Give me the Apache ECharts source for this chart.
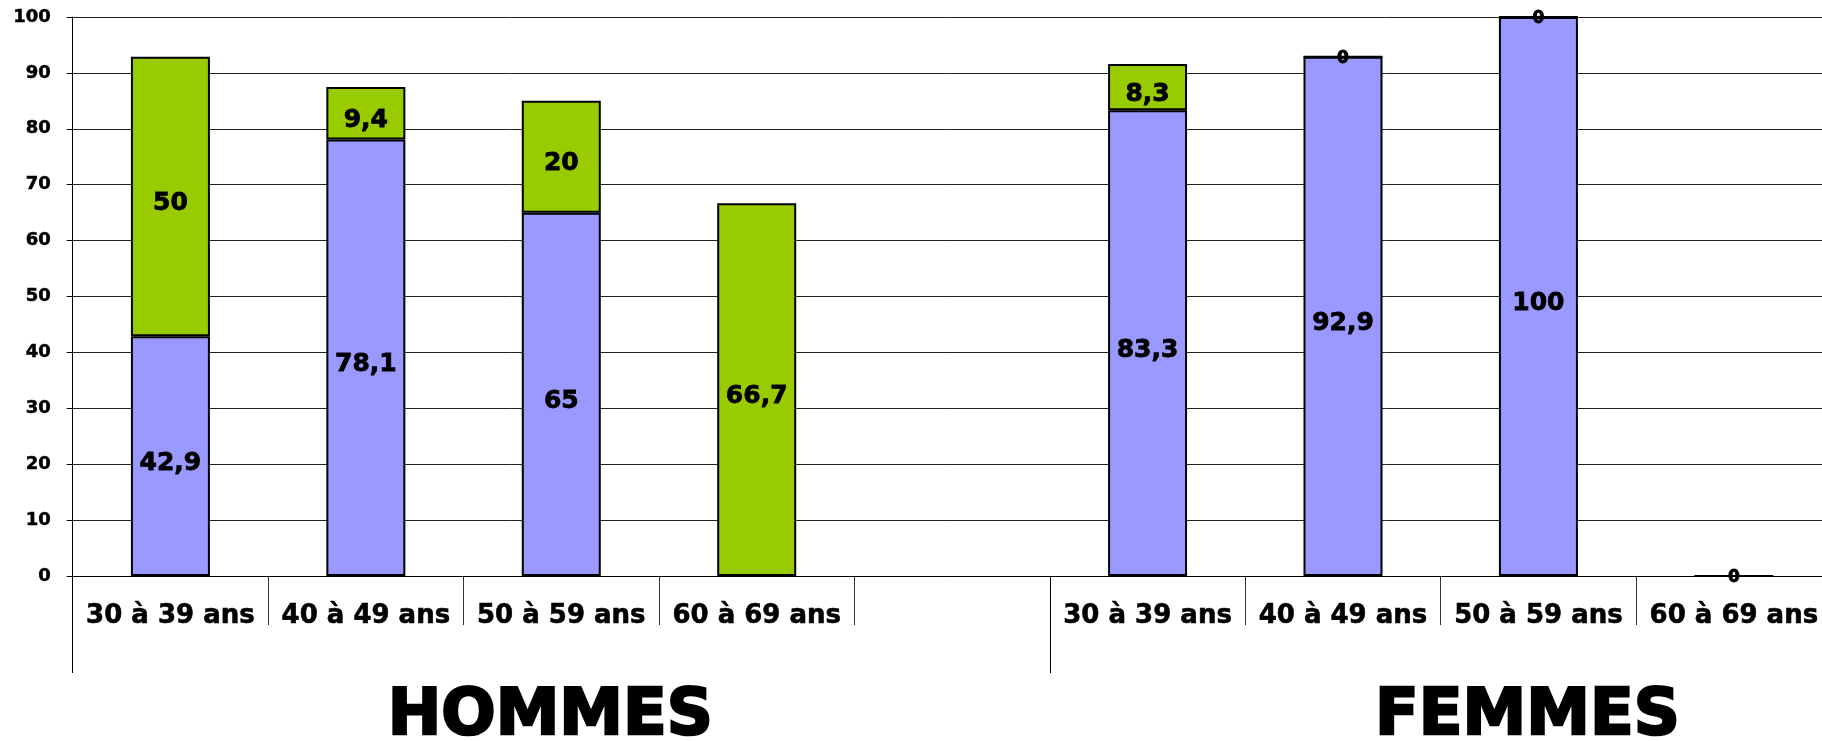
<!DOCTYPE html>
<html>
<head>
<meta charset="utf-8">
<script src="https://cdn.jsdelivr.net/npm/echarts@6/dist/echarts.min.js"></script>
<style>
html,body{margin:0;padding:0;background:#fff;overflow:hidden;}
#chart{width:1822px;height:741px;}
</style>
</head>
<body>
<div id="chart"></div>
<script>
const categories = ['30 à 39 ans','40 à 49 ans','50 à 59 ans','60 à 69 ans','',
                    '30 à 39 ans','40 à 49 ans','50 à 59 ans','60 à 69 ans',''];
const groups = ['HOMMES','FEMMES'];
const blueValues  = [42.9, 78.1, 65, null, null, 83.3, 92.9, 100, null, null];
const greenValues = [50, 9.4, 20, 66.7, null, 8.3, 0, 0, 0, null];
const yTicks = {min: 0, max: 100, interval: 10};

const FONT = 'DejaVu Sans';
function withZeroLabels(arr) {
  return arr.map(v => v === 0 ? {value: 0, label: {fontSize: 17, offset: [0, 2]}} : v);
}
const labelStyle = {
  show: true, position: 'inside', color: '#000', fontFamily: FONT,
  fontWeight: 'bold', fontSize: 25, offset: [0, 7],
  textBorderColor: '#000', textBorderWidth: 0.8,
  formatter: p => String(p.value).replace('.', ',')
};

const chart = echarts.init(document.getElementById('chart'));
chart.setOption({
  animation: false,
  backgroundColor: '#fff',
  grid: {left: 72.7, top: 17, width: 1954.3, height: 559, containLabel: false, outerBoundsMode: 'none'},
  xAxis: [{
    type: 'category', data: categories,
    axisLine: {lineStyle: {color: '#000', width: 1}},
    axisTick: {show: true, length: 49, lineStyle: {color: '#333'}},
    axisLabel: {interval: 0, color: '#000', fontFamily: FONT, fontWeight: 'bold', fontSize: 26, margin: 27,
                textBorderColor: '#000', textBorderWidth: 0.6}
  }, {
    type: 'category', data: groups, position: 'bottom',
    axisLine: {show: false},
    axisTick: {show: true, length: 97, lineStyle: {color: '#000'}},
    axisLabel: {interval: 0, color: '#000', fontFamily: FONT, fontWeight: 'bold', fontSize: 64, margin: 109,
                padding: [0, 22, 0, 0], textBorderColor: '#000', textBorderWidth: 2.5}
  }],
  yAxis: {
    type: 'value', min: yTicks.min, max: yTicks.max, interval: yTicks.interval,
    axisLine: {show: true, lineStyle: {color: '#000'}},
    axisTick: {show: true, length: 6, lineStyle: {color: '#000'}},
    axisLabel: {color: '#000', fontFamily: FONT, fontWeight: 'bold', fontSize: 18, margin: 22,
                textBorderColor: '#000', textBorderWidth: 0.5},
    splitLine: {lineStyle: {color: '#222', width: 1}}
  },
  series: [{
    type: 'bar', stack: 'a', barWidth: 79, xAxisIndex: 0,
    data: blueValues,
    itemStyle: {color: '#9999FF', borderColor: '#000', borderWidth: 2},
    label: labelStyle
  }, {
    type: 'bar', stack: 'a', barWidth: 79, xAxisIndex: 0,
    data: withZeroLabels(greenValues),
    itemStyle: {color: '#99CC00', borderColor: '#000', borderWidth: 2},
    label: labelStyle
  }]
});
</script>
</body>
</html>
